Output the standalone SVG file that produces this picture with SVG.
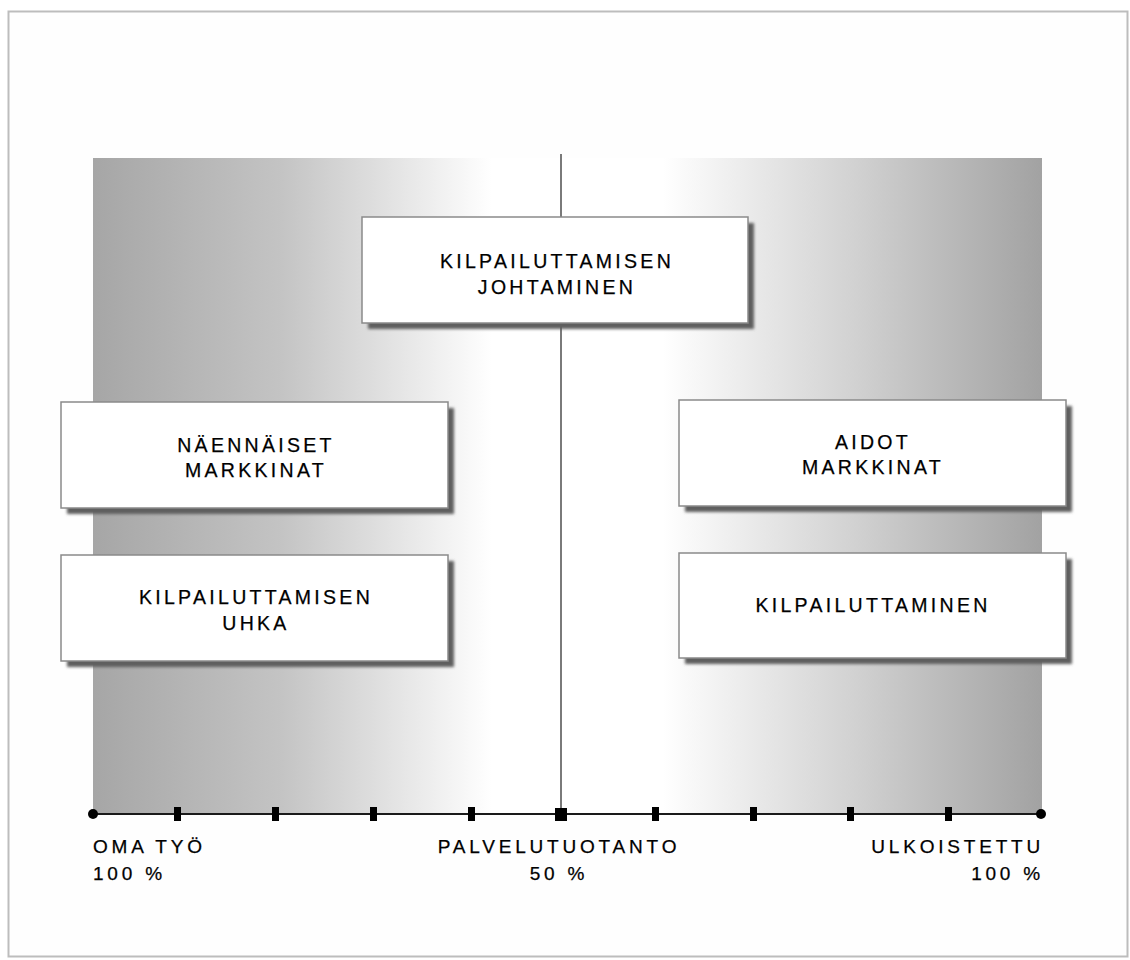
<svg xmlns="http://www.w3.org/2000/svg" width="1130" height="960" viewBox="0 0 1130 960">
<defs>
<linearGradient id="bg" x1="93" y1="0" x2="1042" y2="0" gradientUnits="userSpaceOnUse">
<stop offset="0" stop-color="#a6a6a6"/>
<stop offset="0.2" stop-color="#c4c4c4"/>
<stop offset="0.42" stop-color="#ffffff"/>
<stop offset="0.6" stop-color="#ffffff"/>
<stop offset="0.8" stop-color="#d2d2d2"/>
<stop offset="1" stop-color="#a2a2a2"/>
</linearGradient>
<filter id="sh" x="-5%" y="-10%" width="115%" height="130%">
<feGaussianBlur stdDeviation="1.8"/>
</filter>
<style>
.box{fill:#ffffff;stroke:#8a8a8a;stroke-width:1.5}
.shadow{fill:#5e5e5e;filter:url(#sh)}
.t{font-family:"Liberation Sans",Arial,sans-serif;font-size:19.5px;fill:#000;letter-spacing:3.3px;text-anchor:middle;stroke:#000;stroke-width:0.25}
.lab{font-family:"Liberation Sans",Arial,sans-serif;font-size:19px;fill:#000;letter-spacing:3.8px;stroke:#000;stroke-width:0.25}
.tick{fill:#000}
</style>
</defs>
<rect x="0" y="0" width="1130" height="960" fill="#ffffff"/>
<rect x="8.5" y="11.5" width="1119" height="945" fill="#fefefe" stroke="#bdbdbd" stroke-width="2"/>
<rect x="93" y="158" width="949" height="656" fill="url(#bg)"/>
<g id="connectors">
<line x1="561" y1="154" x2="561" y2="814" stroke="#7a7a7a" stroke-width="2"/>
<line x1="93" y1="814" x2="1042" y2="814" stroke="#1a1a1a" stroke-width="2"/>
<circle cx="93" cy="814" r="5" fill="#000"/>
<circle cx="1041" cy="814" r="5" fill="#000"/>
<rect class="tick" x="174" y="807" width="7" height="14"/>
<rect class="tick" x="272" y="807" width="7" height="14"/>
<rect class="tick" x="370" y="807" width="7" height="14"/>
<rect class="tick" x="468" y="807" width="7" height="14"/>
<rect class="tick" x="555" y="808" width="12" height="13"/>
<rect class="tick" x="652" y="807" width="7" height="14"/>
<rect class="tick" x="750" y="807" width="7" height="14"/>
<rect class="tick" x="847" y="807" width="7" height="14"/>
<rect class="tick" x="945" y="807" width="7" height="14"/>
</g>
<g id="n-johtaminen">
<rect class="shadow" x="368" y="223" width="386" height="106"/>
<rect class="box" x="362" y="217" width="386" height="106"/>
<text class="t" x="557" y="268">KILPAILUTTAMISEN</text>
<text class="t" x="557" y="294">JOHTAMINEN</text>
</g>
<g id="n-naennaiset">
<rect class="shadow" x="67" y="408" width="387" height="106"/>
<rect class="box" x="61" y="402" width="387" height="106"/>
<text class="t" x="256" y="452">NÄENNÄISET</text>
<text class="t" x="256" y="477">MARKKINAT</text>
</g>
<g id="n-uhka">
<rect class="shadow" x="67" y="561" width="387" height="106"/>
<rect class="box" x="61" y="555" width="387" height="106"/>
<text class="t" x="256" y="604">KILPAILUTTAMISEN</text>
<text class="t" x="256" y="630">UHKA</text>
</g>
<g id="n-aidot">
<rect class="shadow" x="685" y="406" width="387" height="106"/>
<rect class="box" x="679" y="400" width="387" height="106"/>
<text class="t" x="873" y="449">AIDOT</text>
<text class="t" x="873" y="474">MARKKINAT</text>
</g>
<g id="n-kilpailuttaminen">
<rect class="shadow" x="685" y="559" width="387" height="105"/>
<rect class="box" x="679" y="553" width="387" height="105"/>
<text class="t" x="873" y="612">KILPAILUTTAMINEN</text>
</g>
<g id="labels">
<text class="lab" x="93" y="853">OMA TYÖ</text>
<text class="lab" x="93" y="880">100 %</text>
<text class="lab" x="559" y="853" text-anchor="middle">PALVELUTUOTANTO</text>
<text class="lab" x="559" y="880" text-anchor="middle">50 %</text>
<text class="lab" x="1044" y="853" text-anchor="end">ULKOISTETTU</text>
<text class="lab" x="1044" y="880" text-anchor="end">100 %</text>
</g>
</svg>
